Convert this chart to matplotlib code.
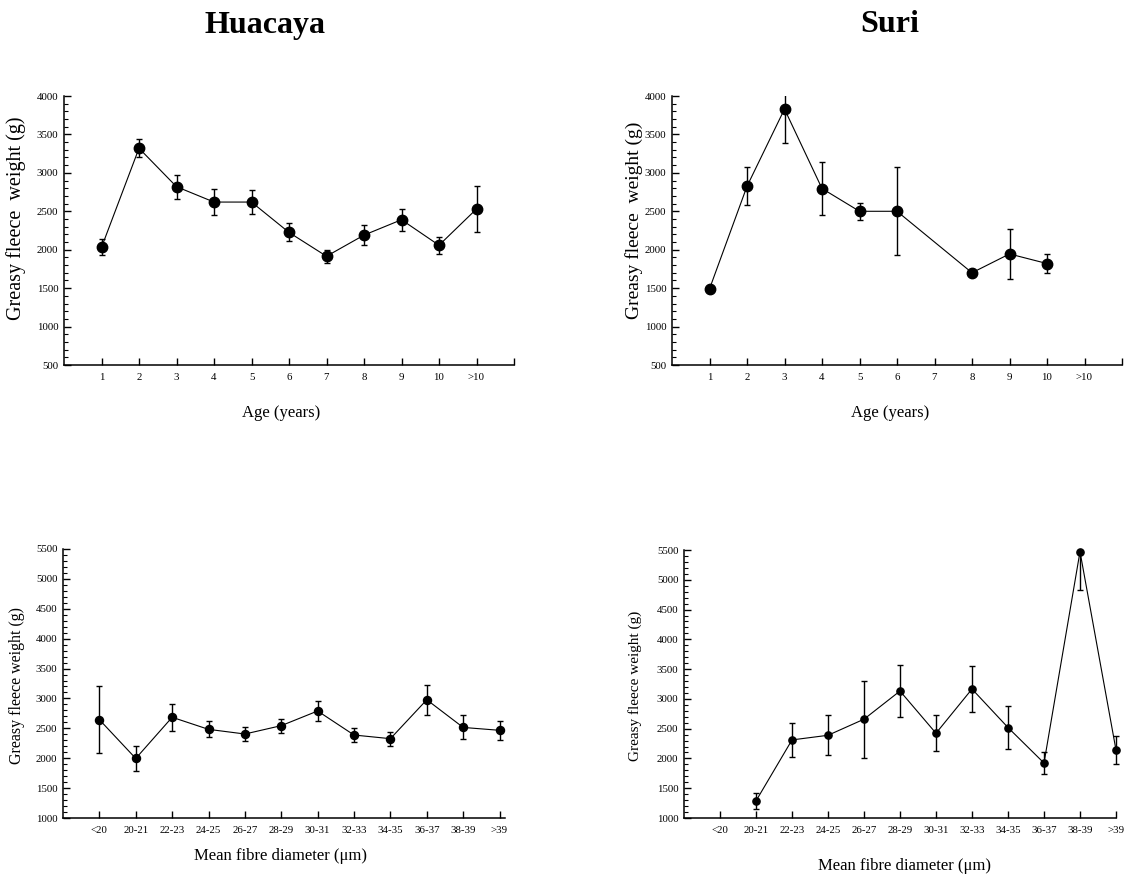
import numpy as np
import matplotlib
matplotlib.use('Agg')
import matplotlib.pyplot as plt
from matplotlib.ticker import MultipleLocator
from matplotlib.transforms import Bbox, TransformedBbox

plt.rcParams['font.family'] = ['Liberation Serif', 'DejaVu Serif']

# age classes (years)
age_labels = ['1', '2', '3', '4', '5', '6', '7', '8', '9', '10', '>10']
huacaya_age_mean = [2030, 3320, 2820, 2620, 2620, 2225, 1915, 2190, 2390, 2058, 2530]
huacaya_age_se = [105, 115, 158, 170, 158, 118, 82, 130, 143, 112, 300]
suri_age_mean = [1490, 2825, 3830, 2796, 2500, 2500, np.nan, 1700, 1945, 1820, np.nan]
suri_age_se = [0, 245, 445, 343, 110, 574, np.nan, 0, 320, 128, np.nan]

# mean fibre diameter classes (um)
mfd_labels = ['<20', '20-21', '22-23', '24-25', '26-27', '28-29', '30-31',
              '32-33', '34-35', '36-37', '38-39', '>39']
huacaya_mfd_mean = [2645, 1996, 2685, 2483, 2405, 2545, 2790, 2388, 2327, 2978, 2515, 2467]
huacaya_mfd_se = [560, 210, 224, 132, 112, 115, 170, 110, 118, 250, 200, 157]
suri_mfd_mean = [np.nan, 1287, 2311, 2389, 2659, 3132, 2423, 3166, 2519, 1923, 5472, 2142]
suri_mfd_se = [np.nan, 141, 287, 335, 645, 444, 300, 388, 357, 190, 640, 233]

W, H = 1126, 876
fig = plt.figure(figsize=(W / 100, H / 100), dpi=100)


def add_ax(x0, x1, ytop, ybot):
    return fig.add_axes([x0 / W, 1 - ybot / H, (x1 - x0) / W, (ybot - ytop) / H])


def draw(ax, labels, mean, se, ylim, xmax, ms, ylab, ylab_size, xlab, extra_tick):
    mean = np.asarray(mean, float)
    se = np.asarray(se, float)
    pos = np.arange(1, len(labels) + 1)
    ok = ~np.isnan(mean)
    line, caps, bars = ax.errorbar(pos[ok], mean[ok], yerr=se[ok], fmt='o', color='black',
                                   ms=ms, lw=0.8, elinewidth=1.0, capsize=2.5,
                                   capthick=1.0, ls='-')
    # bars are cut at the top/bottom of the frame but not at its sides
    wide = TransformedBbox(Bbox([[-0.05, 0], [1.05, 1]]), ax.transAxes)
    for a in list(caps) + list(bars):
        a.set_clip_box(wide)
    line.set_clip_on(False)
    ax.set_xlim(0, xmax)
    ax.set_ylim(*ylim)
    ticks = list(pos) + ([len(labels) + 1] if extra_tick else [])
    ax.set_xticks(ticks)
    ax.set_xticklabels(labels + ([''] if extra_tick else []))
    ax.yaxis.set_major_locator(MultipleLocator(500))
    ax.yaxis.set_minor_locator(MultipleLocator(100))
    for s in ['top', 'right']:
        ax.spines[s].set_visible(False)
    for s in ['left', 'bottom']:
        ax.spines[s].set_linewidth(1.1)
    ax.tick_params(axis='both', which='major', direction='in', length=5, width=1.0,
                   labelsize=7.8, pad=6)
    ax.tick_params(axis='y', which='minor', direction='in', length=3, width=0.8)
    ax.tick_params(axis='y', which='major', pad=4)
    ax.set_ylabel(ylab, fontsize=ylab_size)
    ax.set_xlabel(xlab, fontsize=12)


ax1 = add_ax(64, 514, 96, 365)
draw(ax1, age_labels, huacaya_age_mean, huacaya_age_se, (500, 4000), 12, 7.5,
     'Greasy fleece  weight (g)', 14.5, 'Age (years)', True)
ax2 = add_ax(672, 1122, 96, 365)
draw(ax2, age_labels, suri_age_mean, suri_age_se, (500, 4000), 12, 7.5,
     'Greasy fleece  weight (g)', 14, 'Age (years)', True)
ax3 = add_ax(63, 505, 549, 818)
draw(ax3, mfd_labels, huacaya_mfd_mean, huacaya_mfd_se, (1000, 5500), 12.15, 5.8,
     'Greasy fleece weight (g)', 11.5, 'Mean fibre diameter (μm)', False)
ax4 = add_ax(684, 1116, 550, 818)
draw(ax4, mfd_labels, suri_mfd_mean, suri_mfd_se, (1000, 5500), 12, 5.2,
     'Greasy fleece weight (g)', 11, 'Mean fibre diameter (μm)', False)

# axis labels at fixed figure positions
for ax, (xl_x, xl_y), (yl_x, yl_y) in [
        (ax1, (281, 413), (16, 218)),
        (ax2, (890, 413), (634, 220)),
        (ax3, (280, 856), (17, 686)),
        (ax4, (905, 866), (635, 686))]:
    ax.xaxis.set_label_coords(xl_x / W, 1 - xl_y / H, transform=fig.transFigure)
    ax.yaxis.set_label_coords(yl_x / W, 1 - yl_y / H, transform=fig.transFigure)
    ax.xaxis.label.set_va('center')
    ax.yaxis.label.set_va('center')

fig.text(265 / W, 1 - 25 / H, 'Huacaya', ha='center', va='center', fontsize=23, fontweight='bold')
fig.text(890 / W, 1 - 25 / H, 'Suri', ha='center', va='center', fontsize=23, fontweight='bold')

fig.savefig('out.png', dpi=100)
